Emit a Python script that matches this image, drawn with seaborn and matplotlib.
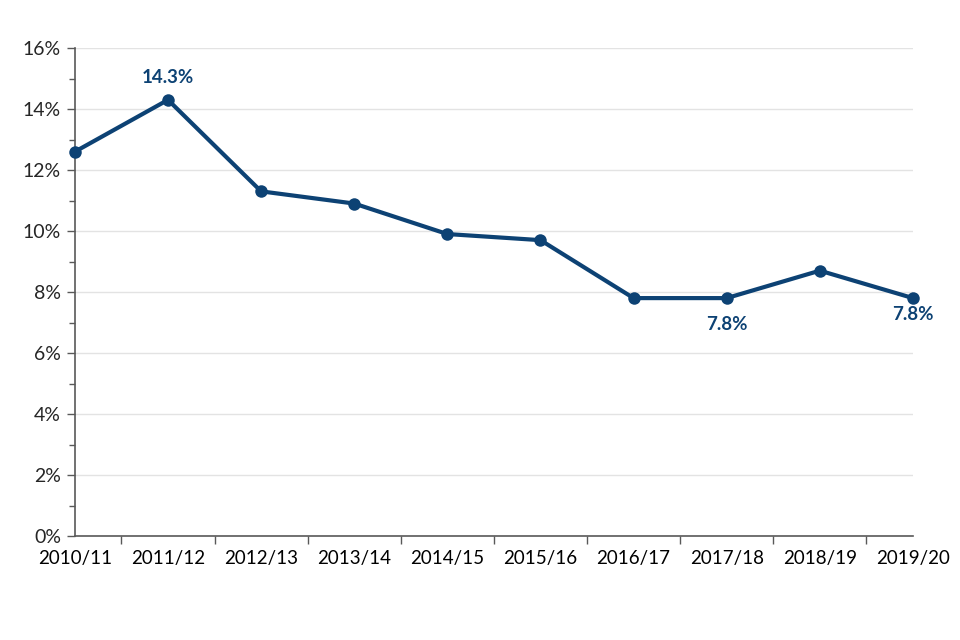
import matplotlib
matplotlib.use("Agg")
import matplotlib.pyplot as plt
import seaborn as sns
import pandas as pd
import numpy as np
from matplotlib.ticker import FuncFormatter, MultipleLocator, FixedLocator

years = ["2010/11", "2011/12", "2012/13", "2013/14", "2014/15",
         "2015/16", "2016/17", "2017/18", "2018/19", "2019/20"]
rates = [12.6, 14.3, 11.3, 10.9, 9.9, 9.7, 7.8, 7.8, 8.7, 7.8]
labelled = {1: "14.3%", 7: "7.8%", 9: "7.8%"}

sns.set_theme(style="white")
plt.rcParams['font.family'] = ['Lato', 'DejaVu Sans']

color = "#0D4274"
df = pd.DataFrame({"idx": np.arange(len(years)), "year": years, "rate": rates})

fig = plt.figure(figsize=(9.6, 6.4), dpi=100)
ax = fig.add_axes([0.078, 0.1625, 0.873, 0.7625])

sns.lineplot(data=df, x="idx", y="rate", ax=ax, color=color, linewidth=3,
             marker="o", markersize=9, markeredgewidth=0, zorder=3)
for ln in ax.lines:
    ln.set_clip_on(False)

ax.set_xlim(0, len(years) - 1)
ax.set_ylim(0, 16)
ax.yaxis.set_major_locator(MultipleLocator(2))
ax.yaxis.set_minor_locator(MultipleLocator(1))
ax.yaxis.set_major_formatter(FuncFormatter(lambda v, p: f"{v:.0f}%"))
ax.grid(axis="y", which="major", color="#E3E3E3", linewidth=1)
ax.set_axisbelow(True)

ax.set_xticks(df["idx"])
ax.set_xticklabels(years)
ax.xaxis.set_minor_locator(FixedLocator(list(np.arange(0.5, len(years) - 1, 1.0)) + [len(years) - 1]))
ax.tick_params(axis="x", which="major", length=0, pad=10, labelsize=13.5, colors="#000000")
ax.tick_params(axis="x", which="minor", length=6, width=1, color="#595959", bottom=True)
ax.tick_params(axis="y", which="major", length=6, width=1, color="#595959", left=True, labelsize=14, pad=4)
ax.tick_params(axis="y", which="minor", length=4, width=1, color="#595959", left=True)

for s in ["top", "right"]:
    ax.spines[s].set_visible(False)
for s in ["left", "bottom"]:
    ax.spines[s].set_color("#595959")
    ax.spines[s].set_linewidth(1.2)

ax.set_xlabel("")
ax.set_ylabel("")

for i, txt in labelled.items():
    if i == 1:
        ax.annotate(txt, (i, rates[i]), xytext=(0, 10), textcoords="offset points",
                    ha="center", va="bottom", fontsize=13.5, fontweight="bold", color=color)
    elif i == 7:
        ax.annotate(txt, (i, rates[i]), xytext=(0, -13), textcoords="offset points",
                    ha="center", va="top", fontsize=13.5, fontweight="bold", color=color)
    else:
        ax.annotate(txt, (i, rates[i]), xytext=(0, -6), textcoords="offset points",
                    ha="center", va="top", fontsize=13.5, fontweight="bold", color=color)

fig.savefig("out.png", dpi=100)
